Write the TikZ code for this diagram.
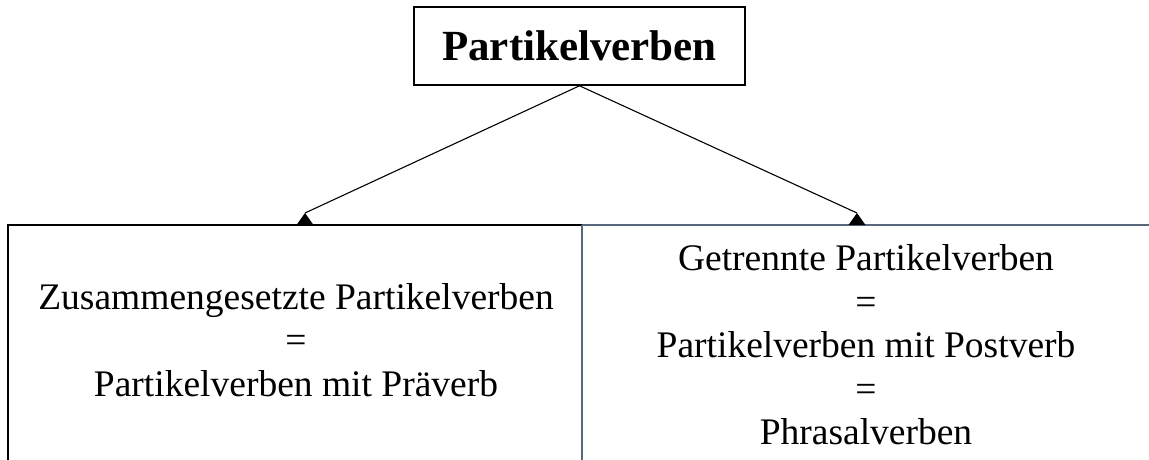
\documentclass[tikz,border=0pt]{standalone}
\usepackage{fontspec}
\setmainfont{Liberation Serif}
\usetikzlibrary{calc}
\definecolor{slate}{RGB}{88,102,126}
\tikzstyle{arrow} = [line width=1.1pt]
\tikzstyle{head} = [fill=black]
\tikzstyle{title} = [draw, line width=1.6pt, minimum width=331pt, minimum height=78pt, inner sep=0pt, font=\bfseries\fontsize{43}{48}\selectfont]
\tikzstyle{panel} = [align=center, inner sep=0pt, font=\fontsize{37.5}{43.5}\selectfont]

\begin{document}
\begin{tikzpicture}[x=1pt, y=-1pt]
        \useasboundingbox (0,0) rectangle (1149,460);

        \node at (579.5,46) [title](top) {Partikelverben};

        % panels
        \coordinate (lbot) at (8,460);
        \coordinate (ltop) at (8,225);
        \coordinate (mtop) at (582,225);
        \coordinate (mbot) at (582,460);
        \coordinate (rtop) at (1149,225);
        \draw[line width=1.6pt] (lbot) -- (ltop) -- (mtop);
        \draw[slate, line width=1.6pt] (mtop) -- (rtop);
        \draw[slate, line width=1.8pt] (mtop) -- (mbot);

        \node at (296,340) [panel](left) {Zusammengesetzte Partikelverben\\=\\Partikelverben mit Präverb};
        \node at (866,345) [panel](right) {Getrennte Partikelverben\\=\\Partikelverben mit Postverb\\=\\Phrasalverben};

        % arrows
        \coordinate (ltip) at (305,213);
        \coordinate (rtip) at (857,213);
        \draw[arrow] (top.south) -- (ltip);
        \draw[arrow] (top.south) -- (rtip);
        \fill[head] (ltip) -- ++(-8.5,12) -- ++(17,0) -- cycle;
        \fill[head] (rtip) -- ++(-8.5,12) -- ++(17,0) -- cycle;

    \end{tikzpicture}
\end{document}
